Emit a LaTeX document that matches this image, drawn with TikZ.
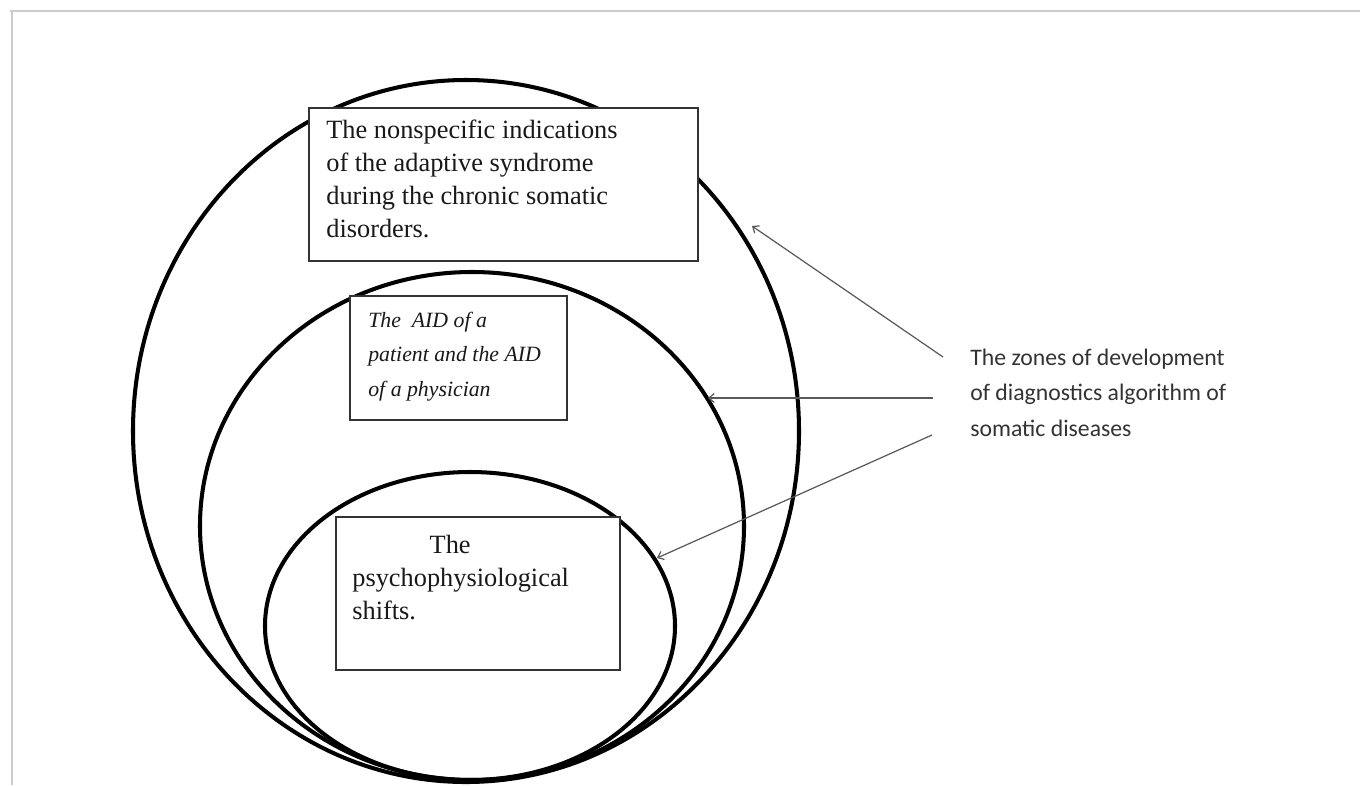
\documentclass[tikz,border=0pt]{standalone}
\usepackage{fontspec}
\setmainfont{Liberation Serif}
\newfontfamily\labelfont{Carlito}
\usetikzlibrary{arrows.meta,positioning}
\begin{document}
\begin{tikzpicture}[x=0.02cm,y=-0.02cm,
    zone/.style={line width=2.3pt},
    box/.style={draw=black!80,fill=white,line width=1pt},
    boxtext/.style={anchor=north west,align=left,inner sep=0pt,text=black!90,
      font=\fontsize{15}{18.7}\selectfont},
    pointer/.style={draw=black!65,line width=0.7pt,-{Straight Barb[length=3pt,width=5pt]}},
    frame/.style={draw=black!20,line width=1.2pt}]
        \useasboundingbox (0,0) rectangle (1360,785);
        %Khung
        \draw[frame] (10,11)--(1360,11);
        \draw[frame] (12,11)--(12,785);
        %Vùng
        \draw[zone] (466,431) ellipse [x radius=333, y radius=351];
        \draw[zone] (472,526) ellipse [x radius=272, y radius=254];
        \draw[zone] (470,626) ellipse [x radius=205, y radius=154];
        %Hộp
        \draw[box] (309,108) rectangle (698,261);
        \draw[box] (350,296) rectangle (567,420);
        \draw[box] (336,517) rectangle (620,670);
        %Chữ
        \node[boxtext] (outertext) at (326,120) {The nonspecific indications\\of the adaptive syndrome\\during the chronic somatic\\disorders.};
        \node[boxtext,font=\itshape\fontsize{12.4}{19.5}\selectfont] (middletext) at (368,312) {The\ \ AID of a\\patient and the AID\\of a physician};
        \node[boxtext] (innertext) at (352,535) {\hspace{44pt}The\\psychophysiological\\shifts.};
        \node[anchor=north west,align=left,inner sep=0pt,text=black!80,
          font=\labelfont\fontsize{13.5}{20}\selectfont] (zones) at (970,349)
          {The zones of development\\of diagnostics algorithm of\\somatic diseases};
        %Mũi tên
        \coordinate (outerhit) at (752,226);
        \coordinate (middlehit) at (708,398);
        \coordinate (innerhit) at (657,558);
        \coordinate (zonesA) at (943,357);
        \coordinate (zonesB) at (933,398);
        \coordinate (zonesC) at (932,435);
        \draw[pointer] (zonesA)--(outerhit);
        \draw[pointer] (zonesB)--(middlehit);
        \draw[pointer] (zonesC)--(innerhit);
    \end{tikzpicture}
\end{document}
